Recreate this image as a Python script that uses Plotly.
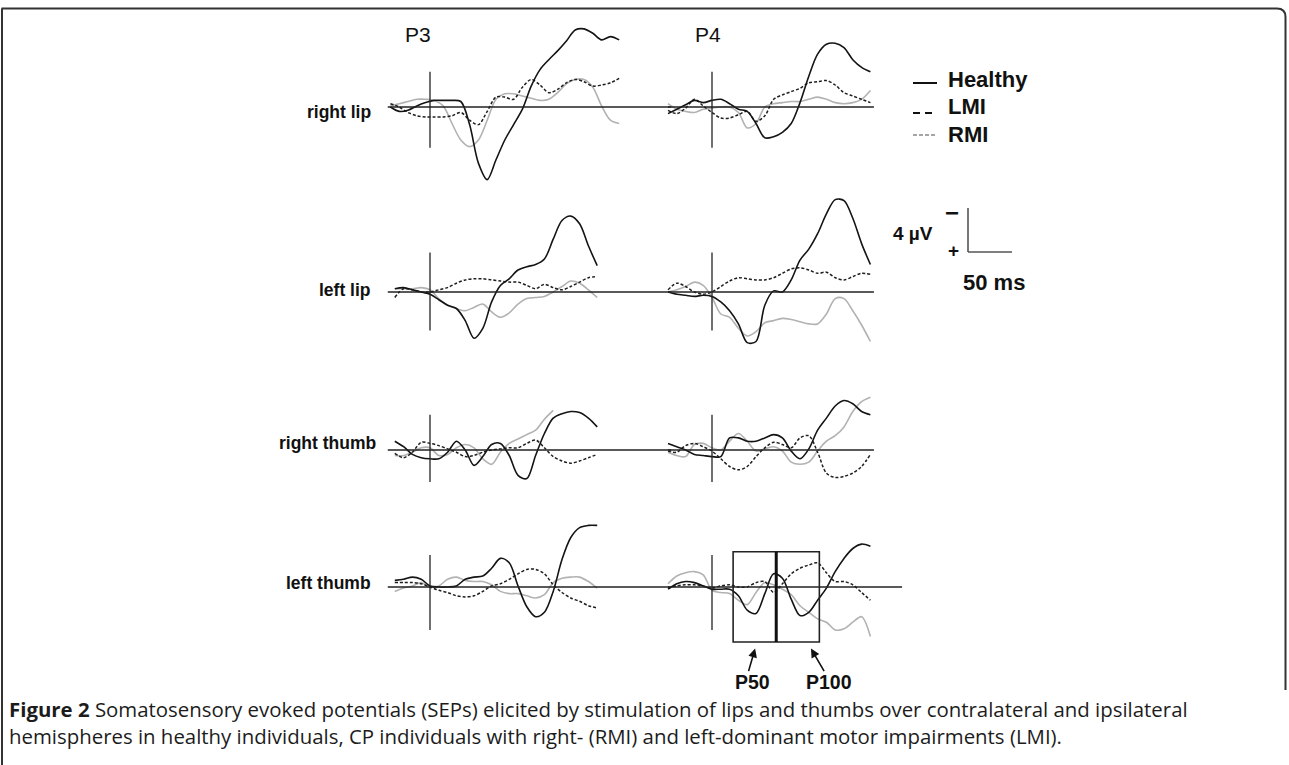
import plotly.graph_objects as go

W, H = 1289, 765
PX_PER_MS = 0.88   # horizontal scale (50 ms = 44 px)
PX_PER_UV = 11.0   # vertical scale (4 uV = 44 px), negativity plotted upward

# ---------------- time axes (ms) ----------------
T_P3_TOP = [-45, -35, -25, -15, -5, 5, 15, 25, 35, 45, 55, 65, 75, 85, 95, 105,
            115, 125, 135, 145, 155, 165, 175, 185, 195, 205, 215]
T_P3 = [-40, -30, -20, -10, 0, 10, 20, 30, 40, 50, 60, 70, 80, 90, 100, 110,
        120, 130, 140, 150, 160, 170, 180, 190]
T_P4 = [-50, -40, -30, -20, -10, 0, 10, 20, 30, 40, 50, 60, 70, 80, 90, 100,
        110, 120, 130, 140, 150, 160, 170, 180]

# ---------------- amplitudes (uV, negative up) ----------------
# right lip
H_P3_RLIP = [0.0, -0.4, -0.3, 0.1, 0.4, 0.6, 0.6, 0.6, 0.5, -1.6, -5.1, -6.6, -4.8, -3.0,
             -1.6, -0.2, 1.9, 3.4, 4.3, 5.1, 6.0, 7.0, 7.1, 6.7, 6.1, 6.4, 6.1]
L_P3_RLIP = [0.3, 0.0, -0.5, -0.8, -0.9, -0.9, -0.9, -0.8, -0.5, -1.2, -1.6, -0.4, 0.9, 0.9,
             0.7, 1.8, 2.5, 2.0, 1.3, 1.6, 2.2, 2.5, 2.3, 1.9, 2.0, 2.2, 2.6]
R_P3_RLIP = [0.1, 0.3, 0.5, 0.7, 0.7, 0.6, 0.1, -1.5, -3.0, -3.6, -3.0, -1.2, 0.7, 1.2,
             1.2, 1.0, 0.8, 0.6, 0.7, 1.3, 2.1, 2.5, 2.5, 1.8, 0.1, -1.2, -1.5]
H_P4_RLIP = [-0.6, -0.2, 0.2, 0.6, 0.4, 0.6, 0.7, 0.3, -0.2, -0.4, -1.5, -2.8, -2.7, -2.3,
             -1.5, 0.4, 2.8, 4.8, 5.7, 5.8, 5.4, 4.3, 3.6, 3.2]
L_P4_RLIP = [-0.3, -0.6, -0.1, 0.7, 0.1, -0.5, -1.0, -1.0, -0.7, -0.4, -1.3, -0.8, 0.7, 1.1,
             1.4, 1.7, 2.2, 2.3, 2.4, 2.0, 1.3, 1.0, 0.7, 0.4]
R_P4_RLIP = [0.3, -0.2, -0.4, -0.5, -0.2, -0.1, 0.0, 0.0, -0.5, -1.9, -1.5, 0.0, 0.3, 0.4,
             0.5, 0.5, 0.7, 0.9, 0.7, 0.4, 0.3, 0.4, 0.7, 1.5]
# left lip
H_P3_LLIP = [0.3, 0.4, 0.2, 0.0, -0.2, -0.7, -1.2, -1.5, -2.6, -4.2, -3.3, -0.9, 0.6, 1.2,
             2.0, 2.3, 2.5, 3.0, 4.8, 6.5, 6.9, 6.2, 4.2, 2.4]
L_P3_LLIP = [-0.5, 0.3, 0.2, 0.0, 0.0, 0.2, 0.4, 0.8, 1.1, 1.2, 1.2, 1.1, 1.0, 0.9,
             0.9, 0.6, 0.3, 0.7, 0.4, 0.2, 0.5, 0.9, 1.3, 1.4]
R_P3_LLIP = [0.3, 0.3, 0.3, 0.4, 0.2, -0.6, -1.2, -1.5, -1.7, -1.4, -1.1, -1.8, -2.3, -1.9,
             -1.1, -0.6, -0.5, -0.4, 0.0, 0.5, 1.0, 0.8, 0.2, -0.5]
H_P4_LLIP = [0.0, -0.2, -0.3, -0.4, -0.3, -0.4, -0.9, -1.7, -2.9, -4.6, -4.5, -1.2, 0.1, 0.0,
             1.1, 2.9, 3.9, 5.3, 7.1, 8.4, 8.3, 6.7, 4.4, 2.5]
L_P4_LLIP = [0.2, 0.8, 0.5, 0.0, -0.2, 0.0, 0.5, 1.0, 1.3, 1.2, 1.1, 1.1, 1.3, 1.7,
             2.1, 2.2, 2.0, 1.7, 1.8, 1.3, 1.1, 1.4, 1.7, 1.6]
R_P4_LLIP = [0.0, 0.2, 0.5, 0.9, 0.6, -0.5, -2.0, -2.3, -3.3, -4.0, -3.6, -2.8, -2.6, -2.4,
             -2.5, -2.7, -2.9, -2.9, -2.0, -0.6, -0.6, -1.7, -3.0, -4.5]
# right thumb
H_P3_RTHUMB = [0.8, 0.3, -0.4, -0.7, -0.8, -0.8, -0.2, 0.8, 0.0, -1.4, -0.6, 0.5, 0.6, -0.5,
               -2.3, -2.6, -0.5, 1.5, 2.9, 3.3, 3.5, 3.4, 2.9, 2.1]
L_P3_RTHUMB = [-0.3, -0.7, -0.2, 0.7, 0.6, 0.4, 0.1, -0.2, -0.6, -0.5, -0.2, 0.0, 0.1, 0.2,
               0.2, 0.6, 0.9, 0.2, -0.6, -1.0, -1.2, -1.0, -0.7, -0.4]
R_P3_RTHUMB = [-0.5, -0.5, -0.2, 0.2, 0.2, -0.5, -0.4, 0.2, 0.5, 0.2, -0.8, -1.3, -0.2, 0.6,
               1.0, 1.4, 1.8, 2.8, 3.6, None, None, None, None, None]
H_P4_RTHUMB = [0.6, 0.3, 0.0, -0.4, -0.5, -0.6, -0.6, 1.1, 1.1, 0.8, 0.8, 1.1, 1.4, 1.1,
               -0.1, -0.8, 0.1, 1.8, 2.9, 4.0, 4.5, 4.2, 3.5, 3.2]
L_P4_RTHUMB = [-0.1, -0.2, 0.4, 0.6, 0.3, -0.1, -0.8, -1.5, -1.8, -1.5, -0.6, 0.2, 0.7, 0.5,
               0.2, 1.1, 1.3, -0.2, -2.1, -2.5, -2.4, -2.1, -1.5, -0.4]
R_P4_RTHUMB = [-0.2, -0.5, -0.6, 0.5, 0.6, 0.2, 0.0, 0.8, 1.5, 0.8, -0.1, 0.1, 0.3, -0.1,
               -1.1, -1.3, -1.1, -0.1, 0.8, 1.3, 2.1, 3.5, 4.4, 4.8]
# left thumb
H_P3_LTHUMB = [0.6, 0.7, 0.9, 0.7, 0.1, 0.0, 0.0, 0.1, 0.7, 0.9, 1.0, 1.7, 2.6, 2.2,
               0.1, -1.8, -2.7, -2.3, -0.4, 2.5, 4.5, 5.4, 5.6, 5.6]
L_P3_LTHUMB = [0.4, 0.4, 0.4, 0.3, 0.0, -0.3, -0.5, -0.8, -0.9, -0.8, -0.4, 0.1, 0.3, 0.7,
               1.2, 1.6, 1.6, 1.2, 0.2, -0.5, -1.0, -1.3, -1.7, -1.9]
R_P3_LTHUMB = [-0.4, -0.1, 0.1, 0.4, 0.0, 0.1, 0.7, 0.9, 0.6, 0.5, 0.5, 0.2, -0.4, -0.6,
               -0.6, -0.8, -1.0, -0.7, 0.4, 0.8, 0.9, 0.9, 0.5, -0.1]
H_P4_LTHUMB = [-0.2, 0.3, 0.5, 0.4, 0.1, -0.2, -0.2, -0.2, -0.8, -2.1, -2.4, -0.6, 1.2, 0.8,
               -1.1, -2.6, -2.3, -1.2, -0.1, 1.4, 2.6, 3.5, 3.9, 3.7]
L_P4_LTHUMB = [-0.1, 0.1, 0.2, 0.2, 0.1, -0.1, 0.1, 0.2, 0.0, 0.0, 0.4, 0.5, -0.5, 0.3,
               1.2, 1.7, 2.0, 2.2, 1.3, 0.5, 0.5, 0.2, -0.5, -1.2]
R_P4_LTHUMB = [0.3, 1.0, 1.3, 1.4, 1.1, -0.3, -0.5, -0.6, -1.2, -1.6, -0.5, 0.4, 0.2, -0.2,
               -0.7, -1.7, -2.3, -2.9, -3.2, -3.9, -3.8, -3.2, -2.7, -4.5]

ROW_LABELS = ["right lip", "left lip", "right thumb", "left thumb"]
COL_LABELS = ["P3", "P4"]
GROUPS = ["Healthy", "LMI", "RMI"]
SCALE_UV = 4
SCALE_MS = 50
WINDOWS_MS = [24, 73, 122]      # P50 / P100 analysis windows
WINDOW_UV = [-5.0, 3.2]
WINDOW_LABELS = ["P50", "P100"]

PANELS = {
    (1, 1): (T_P3_TOP, H_P3_RLIP, L_P3_RLIP, R_P3_RLIP),
    (1, 2): (T_P4, H_P4_RLIP, L_P4_RLIP, R_P4_RLIP),
    (2, 1): (T_P3, H_P3_LLIP, L_P3_LLIP, R_P3_LLIP),
    (2, 2): (T_P4, H_P4_LLIP, L_P4_LLIP, R_P4_LLIP),
    (3, 1): (T_P3, H_P3_RTHUMB, L_P3_RTHUMB, R_P3_RTHUMB),
    (3, 2): (T_P4, H_P4_RTHUMB, L_P4_RTHUMB, R_P4_RTHUMB),
    (4, 1): (T_P3, H_P3_LTHUMB, L_P3_LTHUMB, R_P3_LTHUMB),
    (4, 2): (T_P4, H_P4_LTHUMB, L_P4_LTHUMB, R_P4_LTHUMB),
}

# ---------------- layout geometry (pixels) ----------------
STIM_PX = {1: 430, 2: 712}
BASE_PX = {1: 107, 2: 292, 3: 450, 4: 587}
XR = {1: (-60, 280), 2: (-60, 230)}
YR = (-7.0, 9.5)
BASELINE_MS = {1: (-48, 274), 2: (-50, 184)}
BASELINE_MS_LAST = (-50, 216)
STIM_UV = {1: (-3.7, 3.2), 2: (-3.5, 3.6), 3: (-2.9, 3.2), 4: (-3.9, 2.9)}

FONT = "Liberation Sans, Arial, sans-serif"
C_H, C_L, C_R = "#141414", "#1e1e1e", "#b2b2b2"


def px(xp):
    return xp / W


def py(yp):
    return 1 - yp / H


fig = go.Figure()
shapes, annotations = [], []
layout_axes = {}

for (r, c), (t, hv, lv, rv) in PANELS.items():
    k = (r - 1) * 2 + c
    xa = "x" if k == 1 else f"x{k}"
    ya = "y" if k == 1 else f"y{k}"
    xr = XR[c]
    x0p = STIM_PX[c] + xr[0] * PX_PER_MS
    x1p = STIM_PX[c] + xr[1] * PX_PER_MS
    ybot = BASE_PX[r] - YR[0] * PX_PER_UV
    ytop = BASE_PX[r] - YR[1] * PX_PER_UV
    layout_axes["xaxis" if k == 1 else f"xaxis{k}"] = dict(
        domain=[px(x0p), px(x1p)], range=list(xr), visible=False,
        anchor=ya, fixedrange=True)
    layout_axes["yaxis" if k == 1 else f"yaxis{k}"] = dict(
        domain=[py(ybot), py(ytop)], range=list(YR), visible=False,
        anchor=xa, fixedrange=True)

    # baseline and stimulus onset line
    b0, b1 = BASELINE_MS_LAST if (r, c) == (4, 2) else BASELINE_MS[c]
    shapes.append(dict(type="line", xref=xa, yref=ya, x0=b0, x1=b1, y0=0, y1=0,
                       line=dict(color="#222", width=1.3)))
    s0, s1 = STIM_UV[r]
    shapes.append(dict(type="line", xref=xa, yref=ya, x0=0, x1=0, y0=s0, y1=s1,
                       line=dict(color="#222", width=1.3)))

    fig.add_trace(go.Scatter(x=t, y=rv, xaxis=xa, yaxis=ya, mode="lines",
                             line=dict(color=C_R, width=1.6, shape="spline", smoothing=0.9),
                             name=GROUPS[2], hoverinfo="skip"))
    fig.add_trace(go.Scatter(x=t, y=lv, xaxis=xa, yaxis=ya, mode="lines",
                             line=dict(color=C_L, width=1.5, dash="3px,2px",
                                       shape="spline", smoothing=0.9),
                             name=GROUPS[1], hoverinfo="skip"))
    fig.add_trace(go.Scatter(x=t, y=hv, xaxis=xa, yaxis=ya, mode="lines",
                             line=dict(color=C_H, width=1.6, shape="spline", smoothing=0.9),
                             name=GROUPS[0], hoverinfo="skip"))

# P50 / P100 windows on last panel
shapes.append(dict(type="rect", xref="x8", yref="y8", x0=WINDOWS_MS[0], x1=WINDOWS_MS[2],
                   y0=WINDOW_UV[0], y1=WINDOW_UV[1], line=dict(color="#222", width=1.6)))
shapes.append(dict(type="line", xref="x8", yref="y8", x0=WINDOWS_MS[1], x1=WINDOWS_MS[1],
                   y0=WINDOW_UV[0], y1=WINDOW_UV[1], line=dict(color="#111", width=3)))
for xh, ax in [(49, -7), (112.5, 14)]:
    annotations.append(dict(xref="x8", yref="y8", x=xh, y=WINDOW_UV[0] - 0.6, text="",
                            showarrow=True, arrowhead=2, arrowsize=1.1, arrowwidth=1.6,
                            arrowcolor="#111", ax=ax, ay=24))
for lab, xp in zip(WINDOW_LABELS, [752, 829]):
    annotations.append(dict(xref="paper", yref="paper", x=px(xp), y=py(682), text=f"<b>{lab}</b>",
                            showarrow=False, xanchor="center", yanchor="middle", borderpad=0,
                            font=dict(family=FONT, size=19.5, color="#111")))

# row / column labels
for lab, (xr_, yp) in zip(ROW_LABELS, [(373, 112), (373, 290), (378, 443), (373, 583)]):
    annotations.append(dict(xref="paper", yref="paper", x=px(xr_), y=py(yp), text=f"<b>{lab}</b>",
                            showarrow=False, xanchor="right", yanchor="middle",
                            font=dict(family=FONT, size=17.5, color="#111")))
for lab, xp in zip(COL_LABELS, [418, 708]):
    annotations.append(dict(xref="paper", yref="paper", x=px(xp), y=py(35), text=lab,
                            showarrow=False, xanchor="center", yanchor="middle",
                            font=dict(family=FONT, size=21, color="#111")))

# legend (drawn manually)
leg = [("Healthy", 80, dict(color="#111", width=2), 83),
       ("LMI", 107, dict(color="#111", width=2, dash="7px,5px"), 113),
       ("RMI", 134, dict(color="#888", width=1.5, dash="4px,2px"), 135)]
for lab, ty, ln, ly in leg:
    shapes.append(dict(type="line", xref="paper", yref="paper", x0=px(913), x1=px(937),
                       y0=py(ly), y1=py(ly), line=ln))
    annotations.append(dict(xref="paper", yref="paper", x=px(946), y=py(ty), text=f"<b>{lab}</b>",
                            showarrow=False, xanchor="left", yanchor="middle",
                            font=dict(family=FONT, size=22, color="#111")))

# scale bar
sx, sy = 968, 252
shapes.append(dict(type="line", xref="paper", yref="paper", x0=px(sx), x1=px(sx),
                   y0=py(sy), y1=py(sy - SCALE_UV * PX_PER_UV), line=dict(color="#555", width=1.6)))
shapes.append(dict(type="line", xref="paper", yref="paper", x0=px(sx), x1=px(sx + SCALE_MS * PX_PER_MS),
                   y0=py(sy), y1=py(sy), line=dict(color="#555", width=1.6)))
for txt, xp, yp, sz in [(f"<b>{SCALE_UV} µV</b>", 913, 233, 19), ("<b>−</b>", 952, 212, 24),
                        ("<b>+</b>", 953, 251, 19), (f"<b>{SCALE_MS} ms</b>", 994, 282, 22)]:
    annotations.append(dict(xref="paper", yref="paper", x=px(xp), y=py(yp), text=txt,
                            showarrow=False, xanchor="center", yanchor="middle",
                            font=dict(family=FONT, size=sz, color="#111")))

# caption (single text block, two lines)
CAPTION = ("<b>Figure 2</b> Somatosensory evoked potentials (SEPs) elicited by stimulation of lips "
           "and thumbs over contralateral and ipsilateral<br>"
           "hemispheres in healthy individuals, CP individuals with right- (RMI) and left-dominant "
           "motor impairments (LMI).")
annotations.append(dict(xref="paper", yref="paper", x=px(8), y=py(722), text=CAPTION,
                        showarrow=False, xanchor="left", yanchor="middle", align="left",
                        borderpad=0,
                        font=dict(family="Open Sans, sans-serif", size=20.4, color="#1c1c1c")))

# frame (top, rounded top-right corner, right side, left side)
FRAME = dict(color="#333", width=2)
shapes.append(dict(type="line", xref="paper", yref="paper", x0=px(1.5), x1=px(1277),
                   y0=py(8.5), y1=py(8.5), line=FRAME))
shapes.append(dict(type="path", xref="paper", yref="paper",
                   path=f"M {px(1277)},{py(8.5)} Q {px(1285.5)},{py(8.5)} {px(1285.5)},{py(17)}",
                   line=FRAME))
shapes.append(dict(type="line", xref="paper", yref="paper", x0=px(1285.5), x1=px(1285.5),
                   y0=py(17), y1=py(690), line=FRAME))
shapes.append(dict(type="line", xref="paper", yref="paper", x0=px(2), x1=px(2),
                   y0=py(8.5), y1=py(765), line=FRAME))

fig.update_layout(width=W, height=H, margin=dict(l=0, r=0, t=0, b=0),
                  paper_bgcolor="white", plot_bgcolor="rgba(0,0,0,0)",
                  showlegend=False, shapes=shapes, annotations=annotations, **layout_axes)

fig.write_html("out.html", config={"displayModeBar": False},
               post_script="document.body.style.margin='0px';")
